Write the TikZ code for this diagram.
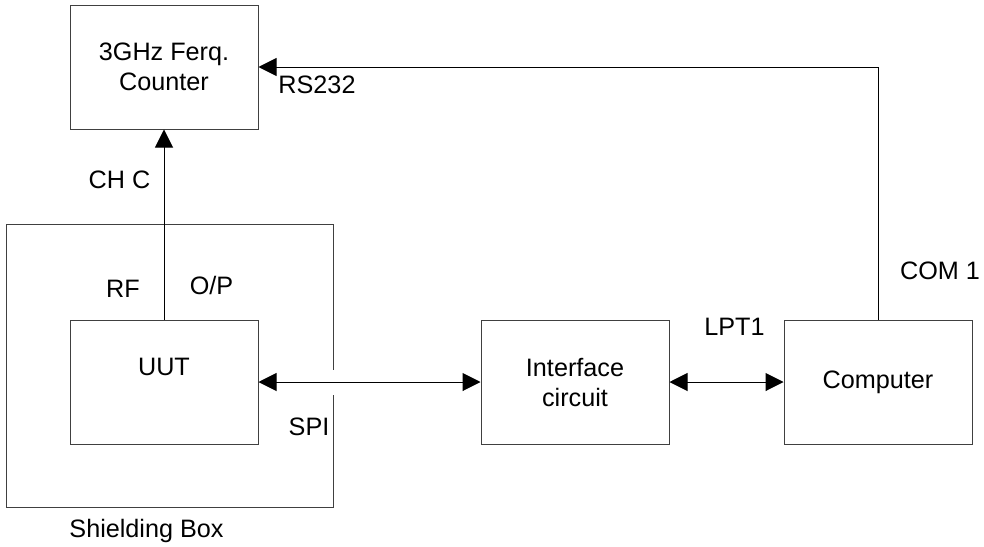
\documentclass[tikz,border=0pt]{standalone}
\usepackage{fontspec}
\setmainfont{Liberation Sans}
\usetikzlibrary{arrows.meta,positioning,calc}
\tikzset{
  unit/.style={rectangle,draw=black!75,line width=0.5pt,align=center,
    minimum height=62pt,minimum width=94pt,font=\fontsize{12.6}{15}\selectfont},
  tag/.style={anchor=base,inner sep=0pt,font=\fontsize{12.6}{15}\selectfont},
  link/.style={line width=0.5pt,-{Triangle[length=9pt,width=9pt]}},
  duplex/.style={line width=0.5pt,{Triangle[length=9pt,width=9pt]}-{Triangle[length=9pt,width=9pt]}},
  shield/.style={draw=black!75,line width=0.5pt},
}

\begin{document}
\begin{tikzpicture}[node distance=95pt and 111pt]
\useasboundingbox (0,0) rectangle (492pt,-273pt);
\node[unit] (counter) at (82pt,-33.5pt) {3GHz Ferq.\\Counter};
\node[unit,below=of counter] (uut) {UUT\\\mbox{}};
\node[unit,right=of uut] (iface) {Interface\\circuit};
\node[unit,right=57pt of iface] (comp) {Computer};

% shielding box, open where the SPI lead passes
\coordinate (sb-nw) at ($(uut.north west)+(-31.5pt,47.5pt)$);
\coordinate (sb-se) at ($(uut.south east)+(37.5pt,-31.5pt)$);
\draw[shield] ($(sb-se |- uut.east)+(0,6.25pt)$) -- (sb-se |- sb-nw) -- (sb-nw)
  -- (sb-nw |- sb-se) -- (sb-se) -- ($(sb-se |- uut.east)+(0,-6.25pt)$);

\draw[link] (uut.north) -- (counter.south);
\draw[link] (comp.north) |- (counter.east);
\draw[duplex] (uut.east) -- (iface.west);
\draw[duplex] (iface.east) -- (comp.west);

% port labels
\node[tag] (rs) at ($(counter.east)+(29.25pt,-13.2pt)$) {RS232};
\node[tag] (chc) at ($(counter.south)+(-22.25pt,-29.7pt)$) {CH C};
\node[tag] (rf) at ($(uut.north)+(-20.5pt,11.2pt)$) {RF};
\node[tag] (op) at ($(uut.north)+(23.75pt,12.5pt)$) {O/P};
\node[tag] (spi) at ($(uut.south east)+(25.25pt,4.5pt)$) {SPI};
\node[tag] (sbox) at ($(uut.south)+(-8.75pt,-46.5pt)$) {Shielding Box};
\node[tag] (lpt) at ($(comp.north west)+(-24.5pt,-8pt)$) {LPT1};
\node[tag] (com) at ($(comp.north)+(31pt,19.8pt)$) {COM 1};
\end{tikzpicture}
\end{document}
